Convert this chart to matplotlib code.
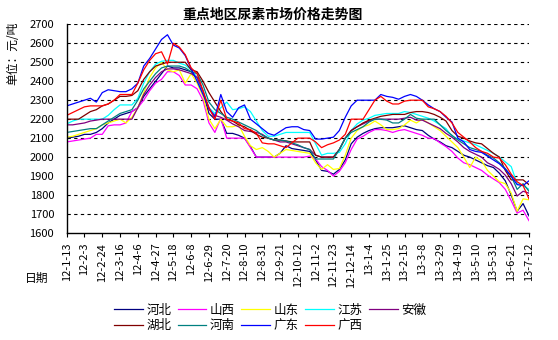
import numpy as np
import matplotlib
matplotlib.use("Agg")
import matplotlib.pyplot as plt

plt.rcParams['font.family'] = ['Noto Sans CJK SC', 'DejaVu Sans']
plt.rcParams['axes.unicode_minus'] = False

# 周度价格（元/吨），2012-01-13 至 2013-07-12
date_labels = ['12-1-13', '12-2-3', '12-2-24', '12-3-16', '12-4-6', '12-4-27',
               '12-5-18', '12-6-8', '12-6-29', '12-7-20', '12-8-10', '12-8-31',
               '12-9-21', '12-10-12', '12-11-2', '12-11-23', '12-12-14', '13-1-4',
               '13-1-25', '13-2-15', '13-3-8', '13-3-29', '13-4-19', '13-5-10',
               '13-5-31', '13-6-21', '13-7-12']

hebei = [2100, 2105, 2110, 2120, 2120, 2130, 2150, 2180, 2200, 2220,
         2230, 2240, 2260, 2320, 2360, 2400, 2440, 2480, 2470, 2470,
         2460, 2450, 2420, 2340, 2230, 2200, 2200, 2125, 2125, 2115,
         2100, 2055, 2000, 2000, 2000, 2000, 2020, 2060, 2045, 2040,
         2035, 2030, 1985, 1930, 1925, 1910, 1935, 1985, 2070, 2105,
         2125, 2140, 2150, 2155, 2155, 2155, 2160, 2165, 2155, 2145,
         2140, 2115, 2095, 2080, 2060, 2050, 2030, 2010, 2000, 1985,
         1970, 1955, 1945, 1915, 1875, 1800, 1715, 1755, 1690]

shanxi = [2080, 2085, 2090, 2095, 2100, 2120, 2120, 2165, 2170, 2170,
          2180, 2240, 2260, 2300, 2350, 2390, 2410, 2450, 2450, 2430,
          2380, 2380, 2360, 2300, 2180, 2130, 2205, 2100, 2100, 2100,
          2100, 2050, 2000, 2000, 2000, 2000, 2000, 2000, 2000, 2000,
          2000, 2005, 1990, 1950, 1930, 1900, 1925, 1970, 2040, 2095,
          2110, 2130, 2145, 2145, 2140, 2130, 2140, 2145, 2135, 2125,
          2115, 2100, 2098, 2075, 2055, 2030, 1995, 1970, 1960, 1945,
          1930, 1905, 1885, 1865, 1830, 1770, 1705, 1720, 1665]

shandong = [2105, 2110, 2120, 2130, 2140, 2150, 2170, 2180, 2190, 2200,
            2180, 2210, 2260, 2340, 2420, 2470, 2500, 2460, 2450, 2460,
            2390, 2440, 2390, 2320, 2200, 2150, 2200, 2160, 2160, 2170,
            2110, 2060, 2040, 2050, 2030, 2000, 2020, 2040, 2035, 2030,
            2025, 2020, 1970, 1935, 1960, 1935, 1940, 2010, 2100, 2140,
            2160, 2170, 2190, 2170, 2145, 2145, 2150, 2170, 2195, 2180,
            2200, 2180, 2160, 2140, 2110, 2080, 2050, 2000, 1945, 2000,
            1980, 1930, 1900, 1870, 1860, 1810, 1715, 1780, 1775]

jiangsu = [2175, 2190, 2200, 2200, 2200, 2200, 2200, 2220, 2250, 2275,
           2275, 2275, 2310, 2390, 2450, 2490, 2505, 2510, 2510, 2495,
           2485, 2460, 2420, 2340, 2260, 2230, 2260, 2290, 2250, 2255,
           2265, 2240, 2190, 2140, 2110, 2110, 2120, 2130, 2130, 2130,
           2130, 2130, 2070, 2010, 2020, 2020, 2025, 2070, 2140, 2175,
           2195, 2205, 2220, 2225, 2230, 2230, 2230, 2240, 2235, 2225,
           2215, 2205, 2190, 2170, 2150, 2110, 2095, 2085, 2075, 2065,
           2050, 2035, 2020, 2000, 1975, 1950, 1860, 1850, 1830]

anhui = [2170, 2170, 2175, 2180, 2190, 2195, 2200, 2200, 2200, 2200,
         2200, 2200, 2260, 2330, 2380, 2420, 2450, 2465, 2465, 2460,
         2450, 2440, 2420, 2350, 2250, 2220, 2210, 2195, 2175, 2160,
         2140, 2135, 2130, 2120, 2100, 2090, 2080, 2080, 2070, 2060,
         2050, 2040, 2010, 2000, 2000, 2000, 2040, 2100, 2140, 2160,
         2175, 2190, 2200, 2200, 2200, 2200, 2200, 2205, 2210, 2195,
         2195, 2180, 2165, 2150, 2125, 2105, 2080, 2050, 2030, 2015,
         2000, 1970, 1955, 1935, 1905, 1860, 1795, 1820, 1810]

hubei = [2200, 2200, 2200, 2220, 2240, 2250, 2270, 2280, 2300, 2320,
         2320, 2325, 2350, 2410, 2450, 2480, 2490, 2500, 2500, 2500,
         2500, 2460, 2450, 2400, 2340, 2290, 2240, 2200, 2190, 2170,
         2160, 2140, 2120, 2105, 2100, 2090, 2090, 2085, 2080, 2080,
         2080, 2080, 2010, 2000, 2000, 2000, 2040, 2100, 2140, 2160,
         2180, 2195, 2205, 2215, 2220, 2225, 2225, 2225, 2235, 2240,
         2240, 2235, 2225, 2210, 2190, 2140, 2110, 2100, 2085, 2075,
         2070, 2045, 2020, 2000, 1930, 1880, 1880, 1880, 1855]

henan = [2130, 2135, 2140, 2145, 2150, 2150, 2170, 2190, 2210, 2230,
         2240, 2250, 2300, 2360, 2400, 2440, 2470, 2480, 2480, 2480,
         2470, 2450, 2440, 2380, 2290, 2250, 2230, 2210, 2200, 2185,
         2170, 2155, 2140, 2115, 2100, 2090, 2090, 2085, 2075, 2065,
         2050, 2040, 1990, 1990, 1990, 1990, 2040, 2100, 2130, 2145,
         2160, 2185, 2200, 2200, 2195, 2180, 2180, 2200, 2225, 2205,
         2200, 2200, 2200, 2170, 2140, 2115, 2090, 2070, 2050, 2040,
         2030, 2010, 1995, 1970, 1940, 1900, 1830, 1860, 1820]

guangdong = [2270, 2280, 2290, 2300, 2310, 2290, 2340, 2355, 2350, 2345,
             2345, 2360, 2390, 2480, 2520, 2570, 2620, 2645, 2590, 2575,
             2535, 2465, 2400, 2330, 2260, 2210, 2330, 2240, 2210, 2260,
             2275, 2200, 2175, 2150, 2125, 2115, 2135, 2155, 2160, 2160,
             2145, 2140, 2095, 2095, 2100, 2105, 2140, 2210, 2270, 2300,
             2300, 2300, 2300, 2330, 2320, 2315, 2305, 2320, 2330, 2320,
             2300, 2275, 2255, 2240, 2210, 2185, 2100, 2080, 2040, 2030,
             2025, 2005, 1985, 1965, 1935, 1900, 1855, 1850, 1875]

guangxi = [2220, 2235, 2250, 2265, 2270, 2270, 2270, 2280, 2300, 2330,
           2330, 2330, 2390, 2460, 2510, 2545, 2555, 2490, 2600, 2580,
           2540, 2470, 2440, 2350, 2260, 2200, 2300, 2200, 2190, 2180,
           2150, 2145, 2125, 2075, 2070, 2070, 2060, 2050, 2075, 2100,
           2100, 2100, 2080, 2050, 2065, 2075, 2090, 2120, 2200, 2200,
           2200, 2250, 2300, 2320, 2295, 2280, 2280, 2295, 2300, 2300,
           2300, 2265, 2255, 2240, 2215, 2180, 2130, 2105, 2080, 2050,
           2030, 2020, 2000, 1995, 1960, 1910, 1870, 1850, 1780]

series = [
    ('河北', hebei, '#000080'),
    ('山西', shanxi, '#FF00FF'),
    ('山东', shandong, '#FFFF00'),
    ('江苏', jiangsu, '#00FFFF'),
    ('安徽', anhui, '#800080'),
    ('湖北', hubei, '#800000'),
    ('河南', henan, '#008080'),
    ('广东', guangdong, '#0000FF'),
    ('广西', guangxi, '#FF0000'),
]

fig = plt.figure(figsize=(5.58, 3.40), dpi=100)
ax = fig.add_axes([66.7 / 558, 1 - 233 / 340, (529 - 66.7) / 558, (233 - 24.3) / 340])

weeks = np.arange(len(hebei))
lines = {}
for name, vals, color in series:
    ln, = ax.plot(weeks, vals, color=color, linewidth=0.9, label=name)
    lines[name] = ln

ax.set_xlim(0, len(hebei) - 1)
ax.set_ylim(1600, 2700)
ax.set_yticks(np.arange(1600, 2701, 100))
ax.set_xticks(weeks[::3])
ax.set_xticklabels(date_labels, rotation=90, fontsize=8)
ax.tick_params(axis='x', direction='out', length=3, width=0.8, pad=4)
ax.tick_params(axis='y', length=0, pad=9, labelsize=8)

for y in np.arange(1700, 2701, 100):
    ax.axhline(y, color='black', linewidth=0.8, linestyle=(0, (3, 3)), zorder=0)

for side in ('top', 'right'):
    ax.spines[side].set_visible(False)
for side in ('left', 'bottom'):
    ax.spines[side].set_linewidth(1.0)
    ax.spines[side].set_color('black')

fig.text(273 / 558, 1 - 15 / 340, '重点地区尿素市场价格走势图', fontsize=10,
         fontweight='bold', ha='center', va='center')
fig.text(13 / 558, 1 - 53 / 340, '单位：元/吨', fontsize=8.5, rotation=90,
         ha='center', va='center')
fig.text(37 / 558, 1 - 278 / 340, '日期', fontsize=8.5, ha='center', va='center')

# 两行图例，按列填充
order = ['河北', '湖北', '山西', '河南', '山东', '广东', '江苏', '广西', '安徽']
fig.legend([lines[n] for n in order], order, ncol=5, frameon=False,
           loc='center', bbox_to_anchor=(270 / 558, 1 - 318 / 340),
           fontsize=9, handlelength=2.3, handletextpad=0.3,
           columnspacing=0.5, labelspacing=0.2, borderpad=0)

fig.savefig('out.png', dpi=100)
